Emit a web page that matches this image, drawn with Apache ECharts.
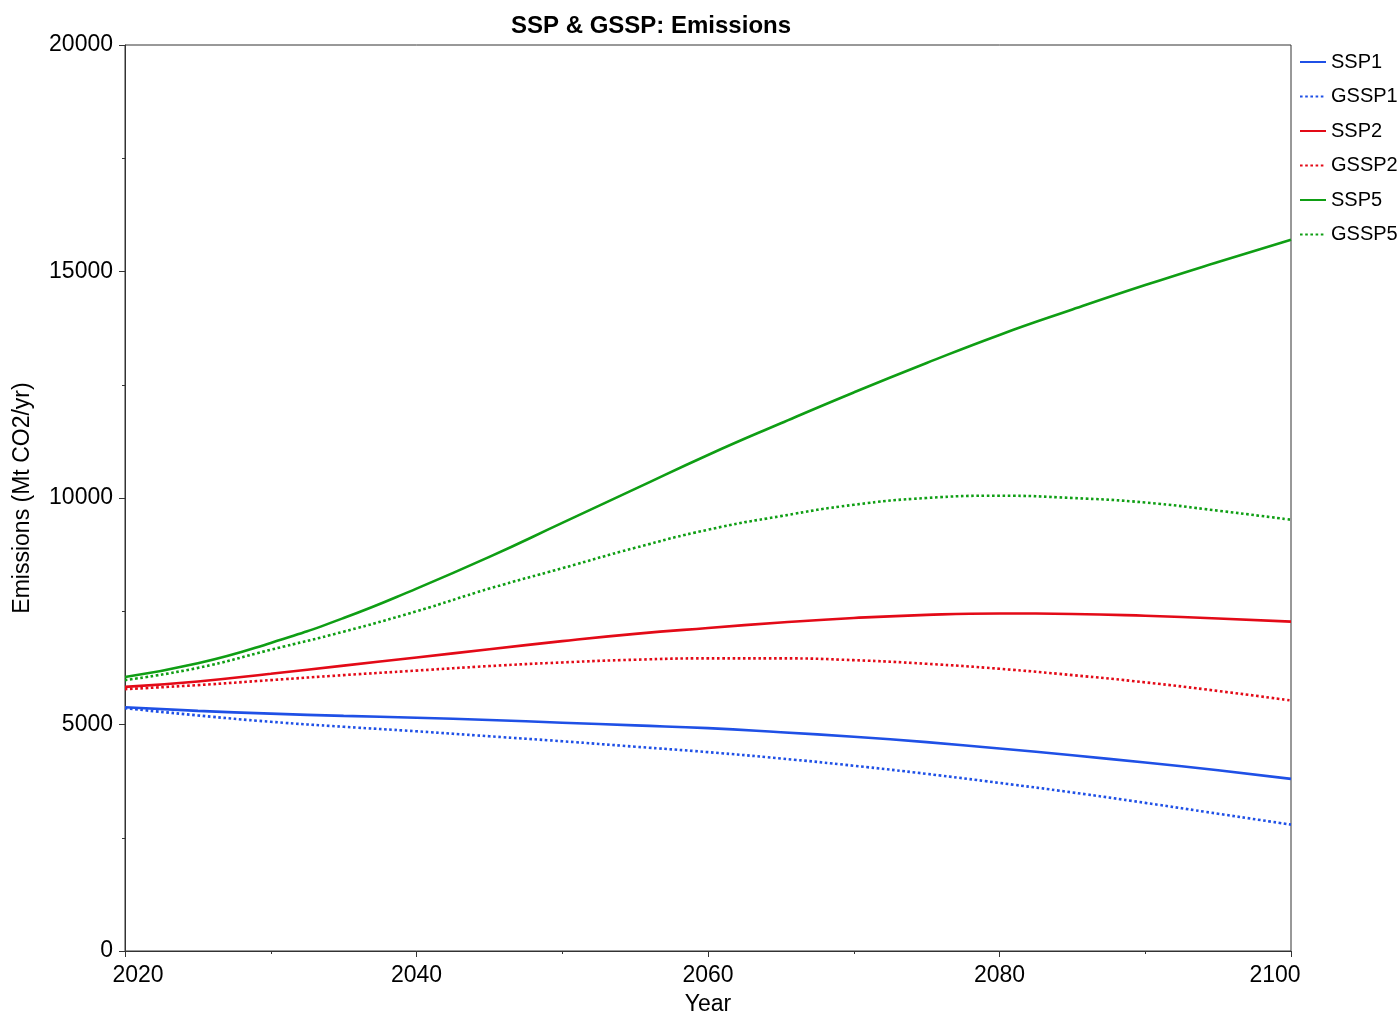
<!DOCTYPE html>
<html>
<head>
<meta charset="utf-8">
<title>SSP & GSSP: Emissions</title>
<script src="https://cdn.jsdelivr.net/npm/echarts@6/dist/echarts.min.js"></script>
<style>
  html, body { margin: 0; padding: 0; background: #fff; }
  #chart { width: 1399px; height: 1015px; }
</style>
</head>
<body>
<div id="chart"></div>
<script>
// Years sampled every 5 years
const years = [2020, 2025, 2030, 2035, 2040, 2045, 2050, 2055, 2060, 2065, 2070, 2075, 2080, 2085, 2090, 2095, 2100];

// Emissions, Mt CO2/yr
const ssp1  = [5380, 5300, 5240, 5190, 5150, 5100, 5040, 4980, 4920, 4830, 4730, 4610, 4470, 4320, 4160, 3990, 3800];
const gssp1 = [5360, 5200, 5060, 4950, 4850, 4740, 4630, 4510, 4390, 4250, 4090, 3910, 3710, 3500, 3270, 3030, 2790];
const ssp2  = [5830, 5950, 6120, 6300, 6480, 6660, 6840, 7000, 7130, 7250, 7350, 7420, 7450, 7440, 7400, 7340, 7270];
const gssp2 = [5780, 5870, 5980, 6090, 6190, 6290, 6370, 6430, 6460, 6460, 6420, 6340, 6230, 6090, 5930, 5740, 5530];
const ssp5  = [6050, 6350, 6800, 7350, 8000, 8700, 9450, 10200, 10950, 11650, 12330, 12980, 13600, 14160, 14700, 15210, 15700];
const gssp5 = [5980, 6250, 6650, 7050, 7500, 8000, 8450, 8900, 9300, 9600, 9850, 10000, 10050, 10000, 9900, 9720, 9520];

const xTicks = [2020, 2040, 2060, 2080, 2100];
const yTicks = [0, 5000, 10000, 15000, 20000];

const FONT = '"Liberation Sans", Arial, Helvetica, sans-serif';
const BLUE = '#1f50e6';
const RED = '#e30a17';
const GREEN = '#0f9e14';

function pairs(vals) {
  return years.map((y, i) => [y, vals[i]]);
}

function lineSeries(name, vals, color, dotted) {
  return {
    name: name,
    type: 'line',
    data: pairs(vals),
    smooth: 0.5,
    symbol: 'none',
    lineStyle: {
      color: color,
      width: 2.6,
      type: dotted ? [2.6, 2.6] : 'solid'
    },
    itemStyle: { color: color },
    emphasis: { disabled: true }
  };
}

const chart = echarts.init(document.getElementById('chart'), null, { renderer: 'canvas' });

chart.setOption({
  animation: false,
  backgroundColor: '#ffffff',
  title: {
    text: 'SSP & GSSP: Emissions',
    left: 646,
    top: 9,
    textAlign: 'center',
    textStyle: { fontFamily: FONT, fontWeight: 'bold', fontSize: 24, color: '#000' }
  },
  legend: {
    orient: 'vertical',
    left: 1299,
    top: 52,
    padding: 0,
    itemWidth: 26,
    itemHeight: 14,
    itemGap: 14.5,
    itemStyle: { opacity: 0 },
    textStyle: { fontFamily: FONT, fontSize: 20, color: '#000', padding: [0, 0, 0, 0] },
    data: ['SSP1', 'GSSP1', 'SSP2', 'GSSP2', 'SSP5', 'GSSP5']
  },
  grid: {
    left: 125,
    right: 108,
    top: 45,
    bottom: 64,
    outerBoundsMode: 'none',
    containLabel: false,
    show: true,
    borderColor: '#333',
    borderWidth: 1,
    backgroundColor: 'transparent'
  },
  xAxis: {
    type: 'value',
    min: 2020,
    max: 2100,
    interval: 20,
    name: 'Year',
    nameLocation: 'middle',
    nameGap: 42,
    nameTextStyle: { fontFamily: FONT, fontSize: 23, color: '#000' },
    axisLine: { show: true, lineStyle: { color: '#333', width: 1 } },
    axisTick: { show: true, length: 6, lineStyle: { color: '#333' } },
    minorTick: { show: true, splitNumber: 2, length: 3, lineStyle: { color: '#333' } },
    splitLine: { show: false },
    axisLabel: {
      fontFamily: FONT,
      fontSize: 23,
      color: '#000',
      margin: 13,
      formatter: function (v) {
        if (v === xTicks[0]) return '{first|' + v + '}';
        if (v === xTicks[xTicks.length - 1]) return '{last|' + v + '}';
        return String(v);
      },
      rich: {
        first: { fontFamily: FONT, fontSize: 23, color: '#000', padding: [0, 0, 0, 26] },
        last: { fontFamily: FONT, fontSize: 23, color: '#000', padding: [0, 32, 0, 0] }
      }
    }
  },
  yAxis: {
    type: 'value',
    min: yTicks[0],
    max: yTicks[yTicks.length - 1],
    interval: 5000,
    name: 'Emissions (Mt CO2/yr)',
    nameLocation: 'middle',
    nameGap: 91,
    nameTextStyle: { fontFamily: FONT, fontSize: 23, color: '#000' },
    axisLine: { show: true, lineStyle: { color: '#333', width: 1 } },
    axisTick: { show: true, length: 6, lineStyle: { color: '#333' } },
    minorTick: { show: true, splitNumber: 2, length: 3, lineStyle: { color: '#333' } },
    splitLine: { show: false },
    axisLabel: {
      fontFamily: FONT,
      fontSize: 23,
      color: '#000',
      margin: 12,
      formatter: function (v) { return String(v); }
    }
  },
  series: [
    lineSeries('SSP1', ssp1, BLUE, false),
    lineSeries('GSSP1', gssp1, BLUE, true),
    lineSeries('SSP2', ssp2, RED, false),
    lineSeries('GSSP2', gssp2, RED, true),
    lineSeries('SSP5', ssp5, GREEN, false),
    lineSeries('GSSP5', gssp5, GREEN, true)
  ]
});
</script>
</body>
</html>
